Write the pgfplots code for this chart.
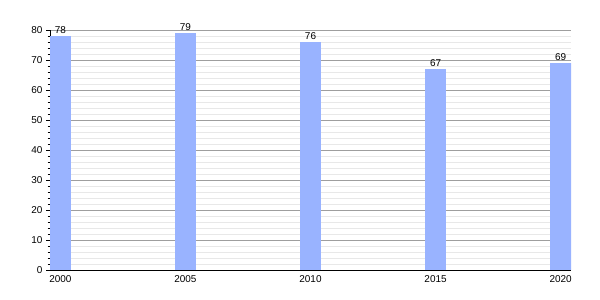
\documentclass[border=0pt]{standalone}
\usepackage{pgfplots}
\pgfplotsset{compat=1.18}
\usepackage{fontspec}
\setmainfont{Liberation Sans}
\definecolor{barblue}{HTML}{99B3FF}
\begin{document}
\begin{tikzpicture}
\path[use as bounding box] (-50bp,-30bp) rectangle (550bp,270bp);
\begin{axis}[
  scale only axis,
  width=521bp, height=240bp,
  xmin=1999.584, xmax=2020.416,
  ymin=0, ymax=80,
  axis lines*=left,
  axis line style={black, line width=0.8pt},
  x axis line style={-}, y axis line style={-},
  xtick={2000,2005,2010,2015,2020},
  xticklabel style={/pgf/number format/1000 sep={}},
  xtick style={draw=none},
  ytick={0,10,...,80},
  minor y tick num=4,
  ytick style={black, line width=0.6pt},
  major tick length=4bp, minor tick length=2.5bp,
  tick align=outside,
  ymajorgrids, yminorgrids,
  major grid style={color=black!38, line width=0.6pt},
  minor grid style={color=black!9, line width=0.6pt},
  /pgf/number format/assume math mode=true,
  tick label style={font=\fontsize{10}{11}\selectfont},
  xticklabel style={yshift=1.5bp},
  ybar, bar width=20.8bp,
  nodes near coords,
  every node near coord/.append style={font=\fontsize{10}{11}\selectfont, black, yshift=-1.5bp},
]
\addplot[fill=barblue, draw=none] coordinates {(2000,78) (2005,79) (2010,76) (2015,67) (2020,69)};
\end{axis}
\end{tikzpicture}
\end{document}
